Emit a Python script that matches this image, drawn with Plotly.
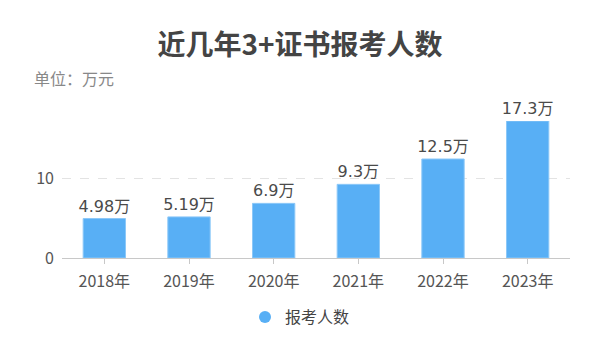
import plotly.graph_objects as go

categories = ["2018年", "2019年", "2020年", "2021年", "2022年", "2023年"]
values = [4.98, 5.19, 6.9, 9.3, 12.5, 17.3]
labels = ["4.98万", "5.19万", "6.9万", "9.3万", "12.5万", "17.3万"]
series_name = "报考人数"

FONT = "Noto Sans CJK SC"
LABEL_FONT = "DejaVu Sans, Noto Sans CJK SC"
BAR = "#58aff5"

L, R, T, B = 62, 30, 121, 102
PH = 360 - T - B
PW = 600 - L - R

fig = go.Figure()
fig.add_trace(go.Bar(
    x=categories, y=values, text=labels, textposition="outside",
    constraintext="none",
    textfont=dict(size=16, color="#4a4a4a", family=LABEL_FONT),
    marker=dict(color=BAR, line=dict(color="#8cc8f8", width=1)),
    cliponaxis=False, showlegend=False, name=series_name,
    hoverinfo="x+y",
))
fig.add_trace(go.Scatter(
    x=[None], y=[None], mode="markers", name=series_name,
    marker=dict(symbol="circle", size=14, color=BAR), showlegend=True,
))

fig.update_layout(
    width=600, height=360,
    margin=dict(l=L, r=R, t=T, b=B, autoexpand=False),
    paper_bgcolor="white", plot_bgcolor="white",
    font=dict(family=FONT, size=16, color="#555"),
    bargap=0.5,
    title=dict(text="<b>近几年3+证书报考人数</b>", x=0.5, xanchor="center",
               y=(360 - 45) / 360, yanchor="middle", yref="container",
               font=dict(size=28, color="#444", family=FONT)),
    legend=dict(orientation="h", xref="container", yref="container",
                x=0.5, xanchor="center", y=(360 - 317) / 360, yanchor="middle",
                font=dict(size=16, color="#444", family=FONT), itemsizing="constant"),
    annotations=[dict(text="单位：万元", xref="paper", yref="paper",
                      x=(32 - L) / PW, xanchor="left", y=(360 - B - 78) / PH, yanchor="middle",
                      showarrow=False, font=dict(size=16, color="#888", family=FONT))],
)
fig.update_xaxes(showline=True, linecolor="#c8c8c8", linewidth=1,
                 ticks="outside", ticklen=5, tickcolor="#c8c8c8",
                 ticklabelstandoff=4,
                 tickfont=dict(size=16, color="#555"), showgrid=False)
fig.update_yaxes(range=[0, 17.3], tickvals=[0, 10], showgrid=True,
                 gridcolor="#e3e3e3", griddash="dash", zeroline=False,
                 showline=False, ticklabelstandoff=7,
                 tickfont=dict(size=16, color="#555"))

fig.write_html("out.html", config={"displayModeBar": False},
               post_script="document.body.style.margin='0';")
